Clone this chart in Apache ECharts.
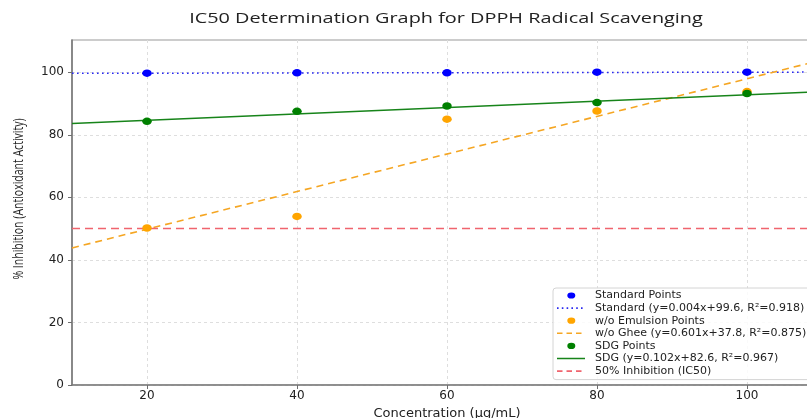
<!DOCTYPE html>
<html>
<head>
<meta charset="utf-8">
<script src="https://cdn.jsdelivr.net/npm/echarts@6/dist/echarts.min.js"></script>
<style>html,body{margin:0;padding:0;background:#fff}#c{width:807px;height:418px}</style>
</head>
<body>
<div id="c"></div>
<script>
const concentrations = [20, 40, 60, 80, 100];
const standardValues = [99.7, 99.8, 99.8, 100.0, 100.0];
const emulsionValues = [50.2, 53.9, 85.0, 87.6, 93.8];
const sdgValues = [84.3, 87.5, 89.2, 90.3, 93.2];
const fitX = [10, 110];
const standardFit = [99.64, 100.04];
const gheeFit = [43.81, 103.91];
const sdgFit = [83.62, 93.82];
const ic50Value = [50, 50];
const xTicks = [20, 40, 60, 80, 100];
const yTicks = [0, 20, 40, 60, 80, 100];

const pts = (xs, ys) => xs.map((x, i) => [x, ys[i]]);
const font = 'DejaVu Sans';
const W = 33, H = 11;
const frame = `M0,0h0.01v0.01h-0.01z M${W - 0.01},${H - 0.01}h0.01v0.01h-0.01z `;
function lineIcon(dash, gap, th) {
  let p = 'path://' + frame;
  const y0 = H / 2 - th / 2;
  for (let x = 0; x < 28; x += dash + gap) {
    const w = Math.min(dash, 28 - x);
    p += `M${x},${y0}h${w}v${th}h${-w}z `;
  }
  return p;
}
const dotIcon = 'path://' + frame + `M10.3,${H / 2} a4,3.1 0 1,0 8,0 a4,3.1 0 1,0 -8,0z`;

const chart = echarts.init(document.getElementById('c'), null, {renderer: 'canvas'});
const gridLine = {show: true, lineStyle: {color: '#dedede', type: [3, 3], width: 1}};
const axisLine = {show: true, lineStyle: {color: '#7a7a7a', width: 1.6}};
chart.setOption({
  animation: false,
  backgroundColor: '#fff',
  grid: {left: 72, top: 40, right: -15, bottom: 33, outerBoundsMode: 'none', containLabel: false,
    show: true, borderColor: '#9a9a9a', borderWidth: 1.2},
  xAxis: {
    type: 'value', min: 10, max: 110,
    name: 'Concentration (μg/mL)', nameLocation: 'middle', nameGap: 17,
    nameTextStyle: {fontFamily: font, fontSize: 13, color: '#222'},
    axisLine: axisLine,
    axisTick: {show: true, customValues: xTicks, length: 4, lineStyle: {color: '#6e6e6e'}},
    axisLabel: {customValues: xTicks, fontFamily: font, fontSize: 12, color: '#222', margin: 5},
    splitLine: gridLine
  },
  yAxis: {
    type: 'value', min: 0, max: 110.3,
    axisLine: axisLine,
    axisTick: {show: true, customValues: yTicks, length: 4, lineStyle: {color: '#6e6e6e'}},
    axisLabel: {customValues: yTicks, fontFamily: font, fontSize: 12, color: '#222', margin: 8},
    splitLine: gridLine
  },
  graphic: [{
    type: 'text', x: 446, y: 19, scaleX: 1.37,
    style: {text: 'IC50 Determination Graph for DPPH Radical Scavenging', fontFamily: 'Open Sans', fontSize: 14.5,
      fill: '#222', textAlign: 'center', textVerticalAlign: 'middle'}
  }, {
    type: 'text', x: 19, y: 199, rotation: Math.PI / 2, scaleX: 0.7,
    style: {text: '% Inhibition (Antioxidant Activity)', fontFamily: 'Open Sans', fontSize: 15,
      fill: '#222', textAlign: 'center', textVerticalAlign: 'middle'}
  }],
  legend: {
    orient: 'vertical', left: 553, top: 288, itemGap: 1.6, itemWidth: W, itemHeight: H,
    padding: [2, 6, 3, 4],
    backgroundColor: 'rgba(255,255,255,0.85)', borderColor: '#d4d4d4', borderWidth: 1, borderRadius: 3,
    textStyle: {fontFamily: font, fontSize: 11, color: '#222'},
    data: [
      {name: 'Standard Points', icon: dotIcon},
      {name: 'Standard (y=0.004x+99.6, R²=0.918)', icon: lineIcon(1.6, 3.2, 1.6)},
      {name: 'w/o Emulsion Points', icon: dotIcon},
      {name: 'w/o Ghee (y=0.601x+37.8, R²=0.875)', icon: lineIcon(5.5, 4, 1.6)},
      {name: 'SDG Points', icon: dotIcon},
      {name: 'SDG (y=0.102x+82.6, R²=0.967)', icon: lineIcon(28, 0, 1.6)},
      {name: '50% Inhibition (IC50)', icon: lineIcon(5.5, 4, 1.6)}
    ]
  },
  series: [
    {name: 'Standard (y=0.004x+99.6, R²=0.918)', type: 'line', data: pts(fitX, standardFit), showSymbol: false, symbol: 'none',
      lineStyle: {color: '#2828f0', width: 1.5, type: [1.6, 3.4]}, itemStyle: {color: '#2828f0'}, z: 2},
    {name: 'w/o Ghee (y=0.601x+37.8, R²=0.875)', type: 'line', data: pts(fitX, gheeFit), showSymbol: false, symbol: 'none',
      lineStyle: {color: '#f5a623', width: 1.6, type: [7, 5]}, itemStyle: {color: '#f5a623'}, z: 2},
    {name: 'SDG (y=0.102x+82.6, R²=0.967)', type: 'line', data: pts(fitX, sdgFit), showSymbol: false, symbol: 'none',
      lineStyle: {color: '#17841a', width: 1.6}, itemStyle: {color: '#17841a'}, z: 2},
    {name: '50% Inhibition (IC50)', type: 'line', data: pts(fitX, ic50Value), showSymbol: false, symbol: 'none',
      lineStyle: {color: '#f0646e', width: 1.5, type: [8, 5]}, itemStyle: {color: '#f0646e'}, z: 2},
    {name: 'Standard Points', type: 'scatter', data: pts(concentrations, standardValues), symbolSize: [9.5, 7.5],
      itemStyle: {color: '#0000ff', opacity: 1}, z: 3},
    {name: 'w/o Emulsion Points', type: 'scatter', data: pts(concentrations, emulsionValues), symbolSize: [9.5, 7.5],
      itemStyle: {color: '#ffa500', opacity: 1}, z: 3},
    {name: 'SDG Points', type: 'scatter', data: pts(concentrations, sdgValues), symbolSize: [9.5, 7.5],
      itemStyle: {color: '#008000', opacity: 1}, z: 3}
  ]
});
</script>
</body>
</html>
